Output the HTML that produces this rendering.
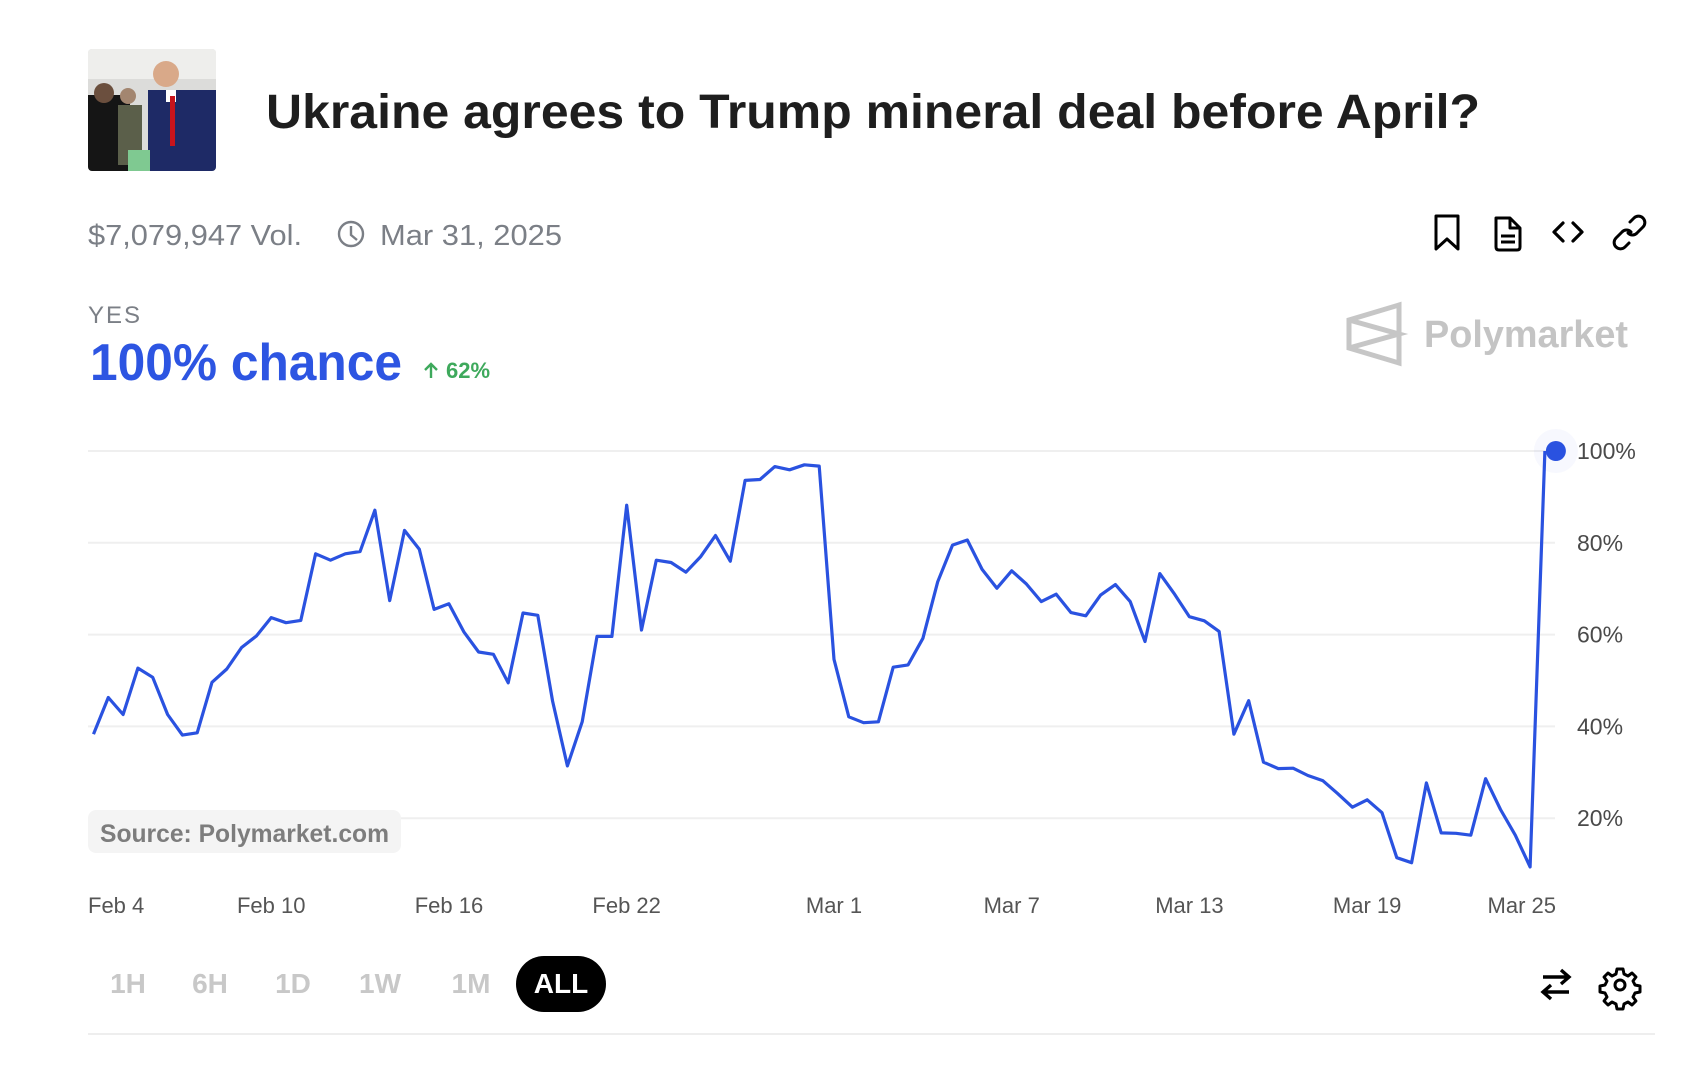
<!DOCTYPE html>
<html><head><meta charset="utf-8">
<style>
html,body{margin:0;padding:0;background:#fff;}
svg{display:block;font-family:"Liberation Sans",Arial,sans-serif;}
</style></head>
<body>
<svg id="page" width="1696" height="1076" viewBox="0 0 1696 1076" xmlns="http://www.w3.org/2000/svg">
  <g>
    <clipPath id="thumbclip"><rect x="88" y="49" width="128" height="122" rx="4"/></clipPath>
    <g clip-path="url(#thumbclip)">
      <rect x="88" y="49" width="128" height="122" fill="#dcdcda"/>
      <rect x="88" y="49" width="128" height="30" fill="#eeeeec"/>
      <rect x="88" y="95" width="42" height="76" fill="#151515"/>
      <circle cx="104" cy="93" r="10" fill="#6b4f3e"/>
      <rect x="118" y="105" width="24" height="60" fill="#5b5f4a"/>
      <circle cx="128" cy="96" r="8" fill="#a38670"/>
      <rect x="148" y="90" width="68" height="81" fill="#1e2a66"/>
      <circle cx="166" cy="74" r="13" fill="#d9a989"/>
      <rect x="166" y="90" width="10" height="12" fill="#fff"/>
      <rect x="170" y="96" width="5" height="50" fill="#c8141c"/>
      <rect x="128" y="150" width="22" height="21" fill="#7fc991"/>
    </g>
  </g>
  <text x="266" y="128" font-size="48" font-weight="bold" fill="#1e1e1e" textLength="1214" lengthAdjust="spacingAndGlyphs">Ukraine agrees to Trump mineral deal before April?</text>

  <text x="88" y="245" font-size="29" fill="#7b7f86" textLength="214" lengthAdjust="spacingAndGlyphs">$7,079,947 Vol.</text>
  <g fill="none" stroke="#7b7f86" stroke-width="2.4">
    <circle cx="351" cy="234" r="12"/>
    <path d="M351 226 V235 L357 240"/>
  </g>
  <text x="380" y="245" font-size="29" fill="#7b7f86" textLength="182" lengthAdjust="spacingAndGlyphs">Mar 31, 2025</text>

  <path d="M1436 216 H1458 V249 L1447 239 L1436 249 Z" fill="none" stroke="#000" stroke-width="3" stroke-linejoin="round"/>
  <g fill="none" stroke="#000" stroke-width="3" stroke-linejoin="round">
    <path d="M1496 218 H1510 L1520 228 V247 Q1520 250 1517 250 H1499 Q1496 250 1496 247 Z"/>
    <path d="M1510 218 V228 H1520"/>
    <path d="M1501 236 H1515 M1501 242 H1515"/>
  </g>
  <g fill="none" stroke="#000" stroke-width="3.2" stroke-linecap="round" stroke-linejoin="round">
    <path d="M1563 223 L1554 232 L1563 241"/><path d="M1573 223 L1582 232 L1573 241"/>
  </g>
  <g fill="none" stroke="#000" stroke-width="3" stroke-linecap="round">
    <path d="M1630 222 l4 -4 a6 6 0 0 1 9 9 l-6 6 a6 6 0 0 1 -9 0"/>
    <path d="M1629 243 l-4 4 a6 6 0 0 1 -9 -9 l6 -6 a6 6 0 0 1 9 0"/>
  </g>

  <text x="88" y="323" font-size="24" fill="#7b7f86" letter-spacing="2">YES</text>
  <text x="90" y="380" font-size="52" font-weight="bold" fill="#2d55e2" textLength="312" lengthAdjust="spacingAndGlyphs">100% chance</text>
  <g>
    <path d="M431 378 V364 M425 370 L431 364 L437 370" fill="none" stroke="#3ea95c" stroke-width="2.4"/>
    <text x="446" y="378" font-size="22" font-weight="bold" fill="#3ea95c">62%</text>
  </g>

  <g fill="none" stroke="#c6c6c6" stroke-width="5" stroke-linejoin="miter">
    <path d="M1399 305 V363 L1349 348 V320 Z"/>
    <path d="M1349 320 L1399 334 L1349 348"/>
  </g>
  <text x="1424" y="347" font-size="38" font-weight="bold" fill="#c4c4c4" textLength="204" lengthAdjust="spacingAndGlyphs">Polymarket</text>

  <g id="chart"></g>

  <g>
    <rect x="88" y="810" width="313" height="43" rx="8" fill="#f4f4f4"/>
    <text x="100" y="842" font-size="25" font-weight="bold" fill="#7d7d7d" textLength="289" lengthAdjust="spacingAndGlyphs">Source: Polymarket.com</text>
  </g>

  <g font-size="28" font-weight="bold" text-anchor="middle">
    <text x="128" y="993" fill="#c8c8c8">1H</text>
    <text x="210" y="993" fill="#c8c8c8">6H</text>
    <text x="293" y="993" fill="#c8c8c8">1D</text>
    <text x="380" y="993" fill="#c8c8c8">1W</text>
    <text x="471" y="993" fill="#c8c8c8">1M</text>
    <g>
      <rect x="516" y="956" width="90" height="56" rx="28" fill="#000"/>
      <text x="561" y="993" fill="#fff">ALL</text>
    </g>
  </g>
  <g fill="none" stroke="#000" stroke-width="3.4">
    <path d="M1543 977 H1569 M1561 970 L1569 977 L1561 984"/>
    <path d="M1569 992 H1543 M1551 985 L1543 992 L1551 999"/>
  </g>
  <g fill="none" stroke="#000" stroke-width="3" stroke-linejoin="round">
    <path d="M1617 969 h6 l1 5 l4 2 l4 -3 l4 4 l-3 4 l2 4 l5 1 v6 l-5 1 l-2 4 l3 4 l-4 4 l-4 -3 l-4 2 l-1 5 h-6 l-1 -5 l-4 -2 l-4 3 l-4 -4 l3 -4 l-2 -4 l-5 -1 v-6 l5 -1 l2 -4 l-3 -4 l4 -4 l4 3 l4 -2 z"/>
    <circle cx="1620" cy="985" r="5"/>
  </g>
  <line x1="88" y1="1034" x2="1655" y2="1034" stroke="#eeeeee" stroke-width="2"/>
</svg>
<script>
const values = [38.3,46.3,42.6,52.7,50.7,42.6,38.1,38.6,49.6,52.5,57.2,59.7,63.7,62.6,63.1,77.6,76.2,77.6,78.1,87.1,67.4,82.7,78.6,65.5,66.7,60.6,56.2,55.7,49.5,64.7,64.2,45.5,31.4,41.0,59.6,59.6,88.2,61.0,76.2,75.7,73.6,77.0,81.6,76.0,93.6,93.8,96.6,95.9,97.0,96.7,54.6,42.1,40.8,41.0,52.9,53.4,59.2,71.5,79.5,80.6,74.2,70.1,73.9,71.0,67.2,68.8,64.8,64.1,68.6,70.9,67.2,58.5,73.3,68.8,63.9,63.0,60.7,38.3,45.6,32.2,30.8,30.9,29.3,28.2,25.4,22.4,24.0,21.2,11.4,10.3,27.7,16.8,16.7,16.3,28.6,21.9,16.3,9.4,100];
const pointStepDays = 0.5;
const xTickDays = [0,6,12,18,25,31,37,43,49];
const xTickLabels = ["Feb 4","Feb 10","Feb 16","Feb 22","Mar 1","Mar 7","Mar 13","Mar 19","Mar 25"];
const yTicks = [20,40,60,80,100];
const yTickLabels = ["20%","40%","60%","80%","100%"];

const NS = "http://www.w3.org/2000/svg";
const chart = document.getElementById("chart");
const X0 = 93.5, PX_PER_DAY = 29.62;
function xScale(t){ return X0 + t*PX_PER_DAY; }
function yScale(v){ return 910 - v*4.59; }
function mk(tag, attrs){ const e=document.createElementNS(NS,tag); for(const k in attrs) e.setAttribute(k,attrs[k]); return e; }

yTicks.forEach((v,i)=>{
  const ln = mk("line",{x1:88,x2:1555,y1:yScale(v),y2:yScale(v),stroke:"#efefef","stroke-width":2});
  
  
  chart.appendChild(ln);
  const tx = mk("text",{x:1577,y:yScale(v)+8,"font-size":23,fill:"#4a4a4a"});
  tx.textContent = yTickLabels[i];
  
  
  chart.appendChild(tx);
});

xTickDays.forEach((d,i)=>{
  let anchor = "middle", x = xScale(d);
  if(i===0){ anchor="start"; x=88; }
  if(i===xTickDays.length-1){ anchor="end"; x=1556; }
  const tx = mk("text",{x:x,y:913,"font-size":22,fill:"#555","text-anchor":anchor});
  tx.textContent = xTickLabels[i];
  
  
  chart.appendChild(tx);
});

const pts = values.map((v,i)=>xScale(i*pointStepDays).toFixed(1)+","+yScale(v).toFixed(1)).join(" ");
const line = mk("polyline",{points:pts,fill:"none",stroke:"#2a52e0","stroke-width":3.2,"stroke-linejoin":"round"});


chart.appendChild(line);

const lastI = values.length-1;
const halo = mk("circle",{cx:xScale(lastI*pointStepDays)+11,cy:yScale(values[lastI]),r:22,fill:"#2a52e0","fill-opacity":0.04});


chart.appendChild(halo);
const dot = mk("circle",{cx:xScale(lastI*pointStepDays)+11,cy:yScale(values[lastI]),r:10,fill:"#2a52e0"});


chart.appendChild(dot);
</script>
</body></html>
